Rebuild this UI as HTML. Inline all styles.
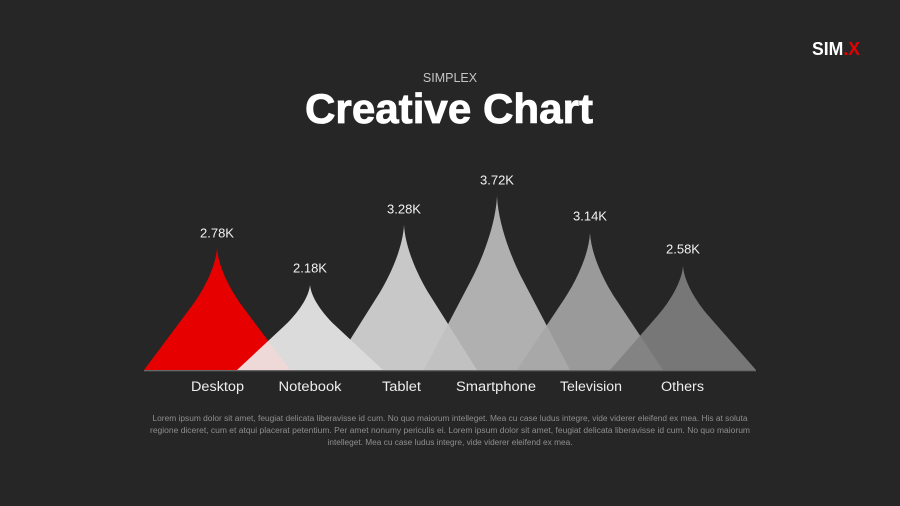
<!DOCTYPE html>
<html><head><meta charset="utf-8"><style>
html,body{margin:0;padding:0;background:#262626;}
svg{display:block;}
text{font-family:"Liberation Sans",sans-serif;}
</style></head><body>
<svg width="900" height="506" viewBox="0 0 900 506" xmlns="http://www.w3.org/2000/svg">
<rect width="900" height="506" fill="#262626"/>
<text x="812" y="55" font-size="18" font-weight="bold" fill="#ffffff" textLength="48" lengthAdjust="spacingAndGlyphs">SIM<tspan fill="#e60000">.X</tspan></text>
<text x="450" y="82" font-size="12.5" fill="#c4c4c4" text-anchor="middle">SIMPLEX</text>
<text x="449" y="123" font-size="42" font-weight="bold" fill="#ffffff" stroke="#ffffff" stroke-width="0.8" text-anchor="middle" textLength="288" lengthAdjust="spacingAndGlyphs">Creative Chart</text>
<g>
<path d="M144,370 L191.45,306.56 C200.21,294.85 215.54,269.96 217,248 C218.46,269.96 233.79,294.85 242.55,306.56 L290,370 Z" fill="#e60000"/>
<path d="M237,370 L284.45,325.8 C293.21,317.64 308.54,300.3 310,285 C311.46,300.3 326.79,317.64 335.55,325.8 L383,370 Z" fill="#f0f0f0" fill-opacity="0.9"/>
<path d="M331,370 L378.45,294.6 C387.21,280.68 402.54,251.1 404,225 C405.46,251.1 420.79,280.68 429.55,294.6 L477,370 Z" fill="#dadada" fill-opacity="0.9"/>
<path d="M424,370 L471.45,279.52 C480.21,262.82 495.54,227.32 497,196 C498.46,227.32 513.79,262.82 522.55,279.52 L570,370 Z" fill="#c0c0c0" fill-opacity="0.9"/>
<path d="M517,370 L564.45,298.76 C573.21,285.61 588.54,257.66 590,233 C591.46,257.66 606.79,285.61 615.55,298.76 L663,370 Z" fill="#a7a7a7" fill-opacity="0.9"/>
<path d="M610,370 L657.45,315.92 C666.21,305.94 681.54,284.72 683,266 C684.46,284.72 699.79,305.94 708.55,315.92 L756,370 Z" fill="#818181" fill-opacity="0.9"/>
</g>
<rect x="144" y="370" width="612" height="1.3" fill="#ffffff" fill-opacity="0.3"/>
<g font-size="13" fill="#f2f2f2" text-anchor="middle">
<text x="217" y="237.5">2.78K</text>
<text x="310" y="272.5">2.18K</text>
<text x="404" y="213.5">3.28K</text>
<text x="497" y="184.5">3.72K</text>
<text x="590" y="220.5">3.14K</text>
<text x="683" y="253.5">2.58K</text>
</g>
<g font-size="13.5" fill="#eeeeee" text-anchor="middle">
<text x="217.5" y="391" textLength="53" lengthAdjust="spacingAndGlyphs">Desktop</text>
<text x="310" y="391" textLength="63" lengthAdjust="spacingAndGlyphs">Notebook</text>
<text x="401.5" y="391" textLength="39" lengthAdjust="spacingAndGlyphs">Tablet</text>
<text x="496" y="391" textLength="80" lengthAdjust="spacingAndGlyphs">Smartphone</text>
<text x="591" y="391" textLength="62" lengthAdjust="spacingAndGlyphs">Television</text>
<text x="682.5" y="391" textLength="43" lengthAdjust="spacingAndGlyphs">Others</text>
</g>
<g font-size="8" fill="#8e8e8e" text-anchor="middle">
<text x="450" y="421" textLength="595" lengthAdjust="spacingAndGlyphs">Lorem ipsum dolor sit amet, feugiat delicata liberavisse id cum. No quo maiorum intelleget. Mea cu case ludus integre, vide viderer eleifend ex mea. His at soluta</text>
<text x="450" y="433" textLength="600" lengthAdjust="spacingAndGlyphs">regione diceret, cum et atqui placerat petentium. Per amet nonumy periculis ei. Lorem ipsum dolor sit amet, feugiat delicata liberavisse id cum. No quo maiorum</text>
<text x="450" y="445" textLength="245" lengthAdjust="spacingAndGlyphs">intelleget. Mea cu case ludus integre, vide viderer eleifend ex mea.</text>
</g>
</svg>
</body></html>
